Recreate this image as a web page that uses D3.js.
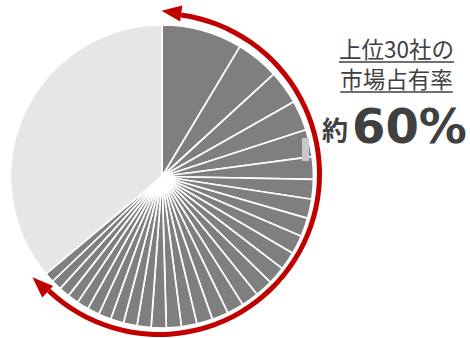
<!DOCTYPE html>
<html>
<head>
<meta charset="utf-8">
<script src="https://cdn.jsdelivr.net/npm/d3@7/dist/d3.min.js"></script>
<style>
  html, body { margin: 0; padding: 0; background: #fff; }
  svg { display: block; }
</style>
</head>
<body>
<svg id="chart" width="470" height="338"></svg>
<script>
// Market share (%) of the top 30 companies, largest first
const companies = d3.range(1, 31).map(i => "社" + i);
const shares = [8.6, 4.6, 3.6, 3.2, 2.9, 2.4,
                2.1, 2.05, 2.0, 2.0, 1.95, 1.9, 1.9, 1.85, 1.8, 1.75, 1.7, 1.65, 1.6,
                1.6, 1.5, 1.45, 1.4, 1.35, 1.3, 1.25, 1.2, 1.15, 1.1, 1.05];
const otherLabel = "その他";
const titleLines = ["上位30社の", "市場占有率"];
const prefixLabel = "約";
const totalLabel = "60%";

const top30Total = d3.sum(shares);
const slices = shares.map((v, i) => ({ name: companies[i], value: v, top: true }))
  .concat([{ name: otherLabel, value: 100 - top30Total, top: false }]);

const svg = d3.select("#chart");
const cx = 162, cy = 176.5, R = 151.5;
const rad = d => d * Math.PI / 180;

const pie = d3.pie().sort(null).value(d => d.value);
const arc = d3.arc().innerRadius(0).outerRadius(R);

const g = svg.append("g").attr("transform", `translate(${cx},${cy})`);
const arcs = pie(slices);

g.selectAll("path.slice")
  .data(arcs)
  .join("path")
  .attr("class", "slice")
  .attr("d", arc)
  .attr("fill", d => d.data.top ? "#7f7f7f" : "#e6e6e6")
  .attr("stroke", "#fff")
  .attr("stroke-width", 1.7)
  .attr("stroke-linejoin", "round");

// small highlight block at the right rim
svg.append("rect")
  .attr("x", 302).attr("y", 138).attr("width", 7).attr("height", 23)
  .attr("fill", "#c8c8c8");

// red arrow arc spanning the top-30 slices
const ax = 159, ay = 174, ar = 160.5, aw = 5;
const startDeg = 7.9, endDeg = 223.4;
const ag = svg.append("g").attr("transform", `translate(${ax},${ay})`);
ag.append("path")
  .attr("d", d3.arc().innerRadius(ar - aw / 2).outerRadius(ar + aw / 2)
    .startAngle(rad(startDeg)).endAngle(rad(endDeg))())
  .attr("fill", "#c00000");

function head(deg, dir, r, len, half) {
  const a = rad(deg);
  const bx = r * Math.sin(a), by = -r * Math.cos(a);
  const tx = dir * Math.cos(a), ty = dir * Math.sin(a);
  const nx = Math.sin(a), ny = -Math.cos(a);
  return [[bx + len * tx, by + len * ty],
          [bx + half * nx, by + half * ny],
          [bx - half * nx, by - half * ny]];
}
[head(startDeg, -1, ar + 1.5, 20, 8), head(endDeg, 1, ar + 1.5, 21, 8)].forEach(pts => {
  ag.append("path")
    .attr("d", "M" + pts.map(p => p.join(",")).join("L") + "Z")
    .attr("fill", "#c00000");
});

// annotation text
const textColor = "#404040";
const font = "'Noto Sans CJK JP', 'Noto Sans', sans-serif";
const tx = 396.5;
titleLines.forEach((t, i) => {
  const y = 58 + i * 30;
  const txt = svg.append("text")
    .attr("x", tx).attr("y", y)
    .attr("text-anchor", "middle")
    .attr("font-family", font)
    .attr("font-size", 22.5)
    .attr("fill", textColor)
    .text(t);
  const w = txt.node().getComputedTextLength();
  svg.append("line")
    .attr("x1", tx - w / 2).attr("x2", tx + w / 2)
    .attr("y1", y + 4).attr("y2", y + 4)
    .attr("stroke", textColor).attr("stroke-width", 1.3);
});

svg.append("text")
  .attr("x", 322).attr("y", 140)
  .attr("font-family", font)
  .attr("font-weight", "bold")
  .attr("font-size", 26)
  .attr("fill", textColor)
  .text(prefixLabel);
svg.append("text")
  .attr("x", 352).attr("y", 143)
  .attr("font-family", "'DejaVu Sans', sans-serif")
  .attr("font-weight", "bold")
  .attr("font-size", 48)
  .attr("fill", textColor)
  .text(totalLabel);
</script>
</body>
</html>
